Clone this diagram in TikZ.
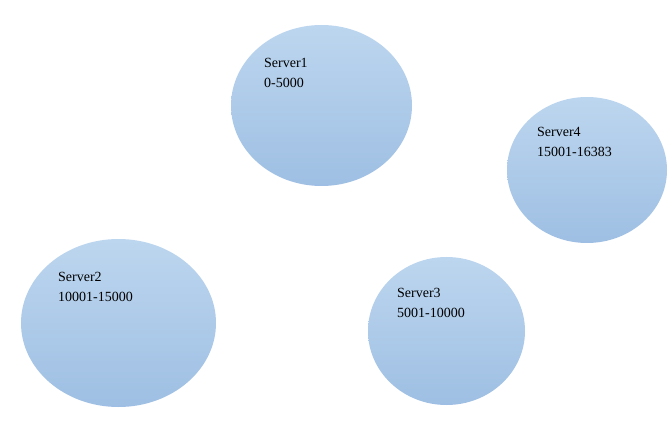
\documentclass[tikz,border=0pt]{standalone}
\usepackage{fontspec}
\setmainfont{Liberation Serif}
\usepackage{tikz}
\usetikzlibrary{shapes.geometric}
\definecolor{servertop}{HTML}{BDD6EF}
\definecolor{serverbottom}{HTML}{9EBFE3}

\begin{document}
\begin{tikzpicture}[
  x=1pt, y=-1pt,
  server/.style={ellipse, inner sep=0pt, top color=servertop,
                 bottom color=serverbottom, draw=none},
  slotlabel/.style={anchor=north west, inner sep=0pt, align=left,
                font=\fontsize{14}{20}\selectfont},
]
  \useasboundingbox (0,0) rectangle (672,430);
  % ellipses
  \node[server, minimum width=181pt, minimum height=161pt] (S1) at (321.5,105.5) {};
  \node[server, minimum width=160pt, minimum height=146pt] (S4) at (587,170) {};
  \node[server, minimum width=195pt, minimum height=168pt] (S2) at (118.5,323) {};
  \node[server, minimum width=157pt, minimum height=148pt] (S3) at (446.5,331) {};
  % labels
  \node[slotlabel] (L1) at (264,58.5) {Server1\\0-5000};
  \node[slotlabel] (L4) at (537,127.5) {Server4\\15001-16383};
  \node[slotlabel] (L2) at (58,272.5) {Server2\\10001-15000};
  \node[slotlabel] (L3) at (397,288) {Server3\\5001-10000};
\end{tikzpicture}
\end{document}
